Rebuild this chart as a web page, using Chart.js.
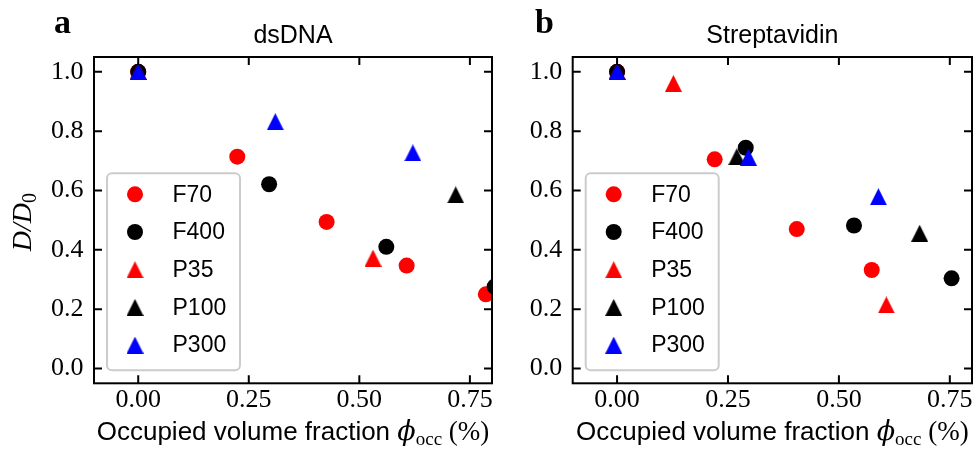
<!DOCTYPE html>
<html>
<head>
<meta charset="utf-8">
<script src="https://cdn.jsdelivr.net/npm/chart.js@4.4.1/dist/chart.umd.min.js"></script>
<style>
html, body { margin: 0; padding: 0; background: #fff; overflow: hidden; width: 973px; height: 450px; }
.panel { position: absolute; top: 0; height: 450px; }
#wrapA { left: 0; width: 500px; }
#wrapB { left: 490px; width: 490px; }
</style>
</head>
<body>
<div class="panel" id="wrapA"><canvas id="chartA" width="500" height="450"></canvas></div>
<div class="panel" id="wrapB"><canvas id="chartB" width="490" height="450"></canvas></div>
<script>
// ---- data ----
const seriesNames = ['F70', 'F400', 'P35', 'P100', 'P300'];
const seriesColors = ['#ff0000', '#000000', '#ff0000', '#000000', '#0000ff'];
const seriesShapes = ['circle', 'circle', 'triangle', 'triangle', 'triangle'];

const xTicks = [0, 0.25, 0.5, 0.75];
const yTicks = [0, 0.2, 0.4, 0.6, 0.8, 1.0];

// panel a: dsDNA  [phi_occ, D/D0]
const dnaF70  = [[0, 1.0], [0.224, 0.714], [0.426, 0.494], [0.607, 0.347], [0.786, 0.250]];
const dnaF400 = [[0, 1.0], [0.296, 0.621], [0.561, 0.410], [0.806, 0.276]];
const dnaP35  = [[0, 1.0], [0.531, 0.372]];
const dnaP100 = [[0, 1.0], [0.718, 0.585]];
const dnaP300 = [[0, 1.0], [0.310, 0.832], [0.621, 0.727]];

// panel b: Streptavidin
const strF70  = [[0, 1.0], [0.220, 0.705], [0.405, 0.470], [0.574, 0.332]];
const strF400 = [[0, 1.0], [0.290, 0.744], [0.534, 0.482], [0.754, 0.304]];
const strP35  = [[0, 1.0], [0.127, 0.961], [0.607, 0.214]];
const strP100 = [[0, 1.0], [0.270, 0.714], [0.682, 0.456]];
const strP300 = [[0, 1.0], [0.296, 0.712], [0.589, 0.579]];

// matplotlib-like '^' marker (bbox centred on the point)
function makeTriangle(color, size) {
    const c = document.createElement('canvas');
    c.width = size; c.height = size;
    const g = c.getContext('2d');
    g.fillStyle = color;
    g.beginPath();
    g.moveTo(size / 2, 0);
    g.lineTo(size, size);
    g.lineTo(0, size);
    g.closePath();
    g.fill();
    return c;
}

function buildDatasets(seriesList) {
    return seriesList.map((pts, i) => ({
        label: seriesNames[i],
        data: pts.map(p => ({ x: p[0], y: p[1] })),
        pointStyle: seriesShapes[i] === 'circle' ? 'circle' : makeTriangle(seriesColors[i], 17),
        pointRadius: 8,
        backgroundColor: seriesColors[i],
        borderColor: seriesColors[i],
        borderWidth: 0,
        order: seriesList.length - i,
        clip: 0
    }));
}

function drawPieces(ctx, pieces, cx, baseY) {
    let total = 0;
    pieces.forEach(p => { ctx.font = p.f; p.w = ctx.measureText(p.t).width; total += p.w; });
    let x = cx - total / 2;
    ctx.textAlign = 'left';
    ctx.textBaseline = 'alphabetic';
    pieces.forEach(p => { ctx.font = p.f; ctx.fillText(p.t, x, baseY + (p.dy || 0)); x += p.w; });
}

const decor = {
    id: 'decor',
    afterDatasetsDraw(chart, args, o) {
        const { ctx, chartArea: ca, scales: { x, y } } = chart;
        ctx.save();
        // frame + inward ticks on all sides
        ctx.strokeStyle = '#000';
        ctx.lineWidth = 2;
        ctx.strokeRect(ca.left, ca.top, ca.right - ca.left, ca.bottom - ca.top);
        const tl = 8;
        ctx.beginPath();
        x.ticks.forEach(t => {
            const px = x.getPixelForValue(t.value);
            ctx.moveTo(px, ca.bottom); ctx.lineTo(px, ca.bottom - tl);
            ctx.moveTo(px, ca.top); ctx.lineTo(px, ca.top + tl);
        });
        y.ticks.forEach(t => {
            const py = y.getPixelForValue(t.value);
            ctx.moveTo(ca.left, py); ctx.lineTo(ca.left + tl, py);
            ctx.moveTo(ca.right, py); ctx.lineTo(ca.right - tl, py);
        });
        ctx.stroke();

        // legend box
        const bx = ca.left + 13, bw = 133, bh = 197, by = ca.bottom - 13 - bh;
        ctx.beginPath();
        ctx.roundRect(bx, by, bw, bh, 5);
        ctx.fillStyle = 'rgba(255,255,255,0.8)';
        ctx.fill();
        ctx.strokeStyle = '#cccccc';
        ctx.lineWidth = 2;
        ctx.stroke();
        chart.data.datasets.forEach((ds, i) => {
            const my = by + 21 + i * 37.7;
            const mx = bx + 28;
            if (ds.pointStyle === 'circle') {
                ctx.fillStyle = ds.backgroundColor;
                ctx.beginPath(); ctx.arc(mx, my, 8, 0, Math.PI * 2); ctx.fill();
            } else {
                ctx.drawImage(ds.pointStyle, mx - 8.5, my - 8.5);
            }
            ctx.fillStyle = '#000';
            ctx.font = '23px "Liberation Sans"';
            ctx.textAlign = 'left';
            ctx.textBaseline = 'middle';
            ctx.fillText(ds.label, bx + 65.5, my + 1);
        });

        ctx.fillStyle = '#000';
        // panel title
        ctx.font = '25px "Liberation Sans"';
        ctx.textAlign = 'center';
        ctx.textBaseline = 'alphabetic';
        ctx.fillText(o.title, (ca.left + ca.right) / 2, 42.5);
        // panel letter
        ctx.font = 'bold 34px "Liberation Serif"';
        ctx.textAlign = 'left';
        ctx.fillText(o.letter, o.letterX, 33);
        // x axis title
        drawPieces(ctx, [
            { t: 'Occupied volume fraction ', f: '26px "Liberation Sans"' },
            { t: '\u03D5', f: 'italic 27px "DejaVu Serif"' },
            { t: 'occ', f: '19px "Liberation Serif"', dy: 5 },
            { t: ' (%)', f: '27px "Liberation Serif"' }
        ], (ca.left + ca.right) / 2, 439.5);
        // y axis title
        if (o.yTitle) {
            ctx.translate(31, (ca.top + ca.bottom) / 2 + 2);
            ctx.rotate(-Math.PI / 2);
            drawPieces(ctx, [
                { t: 'D/D', f: 'italic 28px "Liberation Serif"' },
                { t: '0', f: '20px "Liberation Serif"', dy: 5 }
            ], 0, 0);
        }
        ctx.restore();
    }
};

function makeChart(id, seriesList, decorOpts, yWidth, padRight) {
    return new Chart(document.getElementById(id), {
        type: 'scatter',
        data: { datasets: buildDatasets(seriesList) },
        options: {
            responsive: false,
            animation: false,
            events: [],
            layout: { padding: { top: 57, left: 0, right: padRight, bottom: 0 } },
            plugins: { legend: { display: false }, tooltip: { enabled: false }, decor: decorOpts },
            scales: {
                x: {
                    type: 'linear', min: -0.1, max: 0.8,
                    grid: { display: false, drawTicks: false },
                    border: { display: false },
                    afterBuildTicks: s => { s.ticks = xTicks.map(v => ({ value: v })); },
                    afterFit: s => { s.height = 66.7; },
                    ticks: {
                        color: '#000', padding: 1.5, maxRotation: 0, autoSkip: false,
                        font: { family: 'Liberation Serif', size: 26 },
                        callback: v => v.toFixed(2)
                    }
                },
                y: {
                    type: 'linear', min: -0.05, max: 1.05,
                    grid: { display: false, drawTicks: false },
                    border: { display: false },
                    afterBuildTicks: s => { s.ticks = yTicks.map(v => ({ value: v })); },
                    afterFit: s => { s.width = yWidth; },
                    ticks: {
                        color: '#000', padding: 10.5, autoSkip: false,
                        font: { family: 'Liberation Serif', size: 26 },
                        callback: v => v.toFixed(1)
                    }
                }
            }
        },
        plugins: [decor]
    });
}

makeChart('chartA', [dnaF70, dnaF400, dnaP35, dnaP100, dnaP300],
    { title: 'dsDNA', letter: 'a', letterX: 54, yTitle: true }, 94, 7);
makeChart('chartB', [strF70, strF400, strP35, strP100, strP300],
    { title: 'Streptavidin', letter: 'b', letterX: 45, yTitle: false }, 82.7, 7.8);
</script>
</body>
</html>
